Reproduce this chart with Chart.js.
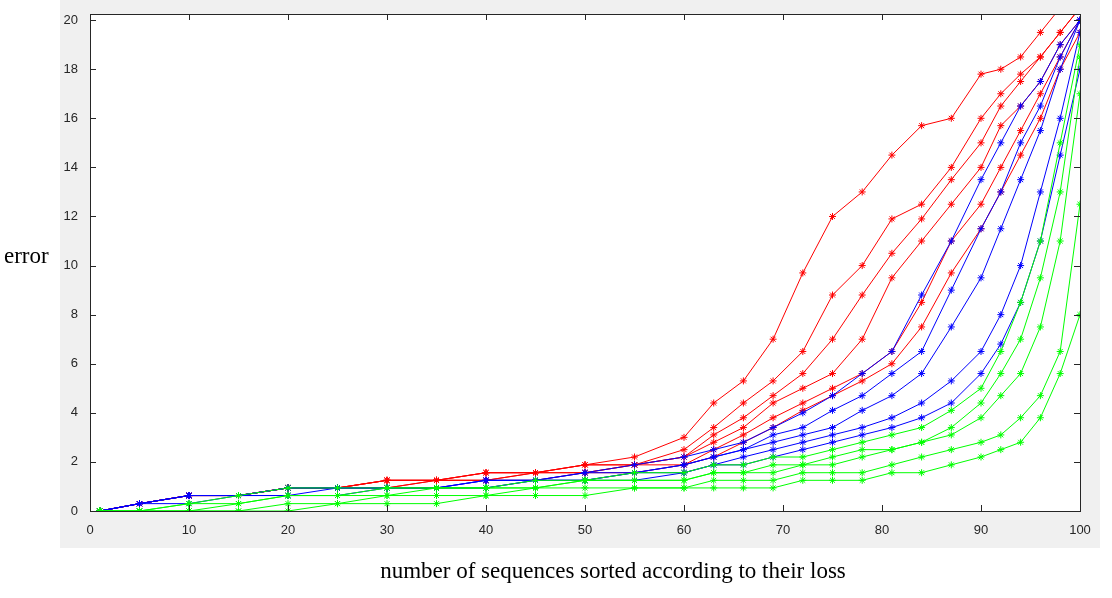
<!DOCTYPE html>
<html>
<head>
<meta charset="utf-8">
<script src="https://cdn.jsdelivr.net/npm/chart.js@4"></script>
<style>
  html, body { margin: 0; padding: 0; background: #fff; }
  #wrap { width: 1112px; height: 598px; }
</style>
</head>
<body>
<div id="wrap"><canvas id="c" width="1112" height="598"></canvas></div>
<script>
// shared x positions (sequence index)
const xs = [1,5,10,15,20,25,30,35,40,45,50,55,60,63,66,69,72,75,78,81,84,87,90,92,94,96,98,100];

// red runs
const red1 = [0,0.3,0.63,0.63,0.94,0.94,1.25,1.25,1.56,1.56,1.88,2.2,3.0,4.4,5.3,7.0,9.7,12.0,13.0,14.5,15.7,16.0,17.8,18.0,18.5,19.5,20.5,21];
const red2 = [0,0.3,0.63,0.63,0.94,0.94,1.25,1.25,1.56,1.56,1.88,1.88,2.5,3.4,4.4,5.3,6.5,8.8,10.0,11.9,12.5,14.0,16.0,17.0,17.8,18.5,19.5,20.5];
const red3 = [0,0.3,0.63,0.63,0.94,0.94,1.25,1.25,1.25,1.56,1.56,1.88,2.2,2.8,3.4,4.4,5.0,5.6,7.0,9.5,11.0,12.5,14.0,15.7,16.5,17.5,19.0,20];
const red4 = [0,0.3,0.63,0.63,0.94,0.94,0.94,1.25,1.25,1.56,1.56,1.88,1.88,2.5,3.1,3.8,4.4,5.0,5.6,6.5,8.5,11.0,12.5,14.0,15.5,17.0,18.5,20];
const red5 = [0,0.3,0.63,0.63,0.94,0.94,0.94,1.25,1.25,1.25,1.56,1.56,1.88,2.2,2.8,3.4,4.1,4.7,5.3,6.0,7.5,9.7,11.5,13.0,14.5,16.0,18.0,19.5];
const red6 = [0,0.3,0.63,0.63,0.94,0.94,1.25,1.25,1.56,1.56,1.88,1.88,2.2,3.1,3.8,4.7,5.6,7.0,8.8,10.5,11.9,13.5,15.0,16.5,17.5,18.5,19.5,20.5];

// blue runs
const blue1 = [0,0.3,0.63,0.63,0.94,0.94,0.94,0.94,1.25,1.25,1.56,1.88,2.2,2.5,2.8,3.4,4.0,4.7,5.6,6.5,8.8,11.0,13.5,15.0,16.5,17.5,19.0,20];
const blue2 = [0,0.3,0.63,0.63,0.94,0.94,0.94,0.94,1.25,1.25,1.25,1.56,1.88,2.2,2.5,2.8,3.1,3.4,4.1,4.7,5.6,7.5,9.5,11.5,13.5,15.5,18.0,20];
const blue3 = [0,0.3,0.63,0.63,0.63,0.94,0.94,0.94,0.94,1.25,1.25,1.56,1.56,1.88,2.2,2.5,2.8,3.1,3.4,3.8,4.4,5.3,6.5,8.0,10.0,13.0,16.0,19.5];
const blue4 = [0,0.3,0.3,0.63,0.63,0.63,0.94,0.94,0.94,1.25,1.25,1.25,1.56,1.88,1.88,2.2,2.5,2.8,3.1,3.4,3.8,4.4,5.6,6.8,8.5,11.0,14.5,18];
const blue5 = [0,0.3,0.63,0.63,0.94,0.94,0.94,0.94,1.25,1.25,1.56,1.56,1.88,2.2,2.5,3.1,3.4,4.1,4.7,5.6,6.5,9.0,11.5,13.0,15.0,16.5,18.5,20];

// green runs
const green1 = [0,0,0.3,0.63,0.94,0.94,0.94,0.94,0.94,1.25,1.25,1.56,1.56,1.88,1.88,2.2,2.2,2.5,2.8,3.1,3.4,4.1,5.0,6.5,8.5,11.0,15.0,19];
const green2 = [0,0,0,0.3,0.63,0.63,0.94,0.94,0.94,0.94,1.25,1.25,1.25,1.56,1.56,1.88,1.88,2.2,2.5,2.5,2.8,3.1,3.8,4.7,5.6,7.5,11.0,17];
const green3 = [0,0,0,0,0.3,0.3,0.63,0.63,0.63,0.94,0.94,0.94,0.94,1.25,1.25,1.25,1.56,1.56,1.56,1.88,2.2,2.5,2.8,3.1,3.8,4.7,6.5,12.5];
const green4 = [0,0,0,0,0,0.3,0.3,0.3,0.63,0.63,0.63,0.94,0.94,0.94,0.94,0.94,1.25,1.25,1.25,1.56,1.56,1.88,2.2,2.5,2.8,3.8,5.6,8];
const green5 = [0,0,0.3,0.3,0.63,0.63,0.63,0.94,0.94,0.94,1.25,1.25,1.25,1.56,1.56,1.56,1.88,1.88,2.2,2.5,2.8,3.4,4.4,5.6,7.0,9.5,13.0,18.5];

const xTicks = [0,10,20,30,40,50,60,70,80,90,100];
const yTicks = [0,2,4,6,8,10,12,14,16,18,20];

function run(ys, color) {
    return {
        data: xs.map((x, i) => ({ x: x, y: ys[i] })),
        borderColor: color,
        backgroundColor: color,
        borderWidth: 1,
        pointStyle: 'star',
        pointRadius: 3.5,
        pointBorderWidth: 1,
        tension: 0
    };
}

// figure background, box and titles
const frame = {
    id: 'frame',
    beforeDraw(chart) {
        const ctx = chart.ctx;
        const a = chart.chartArea;
        ctx.save();
        ctx.fillStyle = '#f0f0f0';
        ctx.fillRect(60, 0, 1040, 548);
        ctx.fillStyle = '#fff';
        ctx.fillRect(a.left, a.top, a.right - a.left, a.bottom - a.top);
        ctx.restore();
    },
    afterDraw(chart) {
        const ctx = chart.ctx;
        const a = chart.chartArea;
        const sx = chart.scales.x, sy = chart.scales.y;
        ctx.save();
        ctx.strokeStyle = '#262626';
        ctx.lineWidth = 1;
        ctx.strokeRect(a.left + 0.5, a.top + 0.5, a.right - a.left, a.bottom - a.top);
        ctx.beginPath();
        xTicks.forEach(t => {
            const px = Math.round(sx.getPixelForValue(t)) + 0.5;
            ctx.moveTo(px, a.bottom); ctx.lineTo(px, a.bottom - 6);
            ctx.moveTo(px, a.top); ctx.lineTo(px, a.top + 6);
        });
        yTicks.forEach(t => {
            const py = Math.round(sy.getPixelForValue(t)) + 0.5;
            ctx.moveTo(a.left, py); ctx.lineTo(a.left + 6, py);
            ctx.moveTo(a.right, py); ctx.lineTo(a.right - 6, py);
        });
        ctx.stroke();
        ctx.fillStyle = '#000';
        ctx.font = '23px "Liberation Serif"';
        ctx.textBaseline = 'middle';
        ctx.textAlign = 'left';
        ctx.fillText('error', 4, 257);
        ctx.textAlign = 'center';
        ctx.fillText('number of sequences sorted according to their loss', 613, 572);
        ctx.restore();
    }
};

new Chart(document.getElementById('c'), {
    type: 'line',
    data: {
        datasets: [
            run(green1, '#00ff00'), run(green2, '#00ff00'), run(green3, '#00ff00'), run(green4, '#00ff00'), run(green5, '#00ff00'),
            run(blue1, '#0000ff'), run(blue2, '#0000ff'), run(blue3, '#0000ff'), run(blue4, '#0000ff'), run(blue5, '#0000ff'),
            run(red1, '#ff0000'), run(red2, '#ff0000'), run(red3, '#ff0000'), run(red4, '#ff0000'), run(red5, '#ff0000'), run(red6, '#ff0000')
        ]
    },
    options: {
        responsive: false,
        animation: false,
        layout: { padding: { left: 60, right: 32, top: 14, bottom: 50 } },
        plugins: { legend: { display: false }, tooltip: { enabled: false } },
        scales: {
            x: {
                type: 'linear', min: 0, max: 100,
                afterFit: s => { s.height = 37; },
                afterBuildTicks: s => { s.ticks = xTicks.map(v => ({ value: v })); },
                grid: { display: false },
                border: { display: false },
                ticks: { color: '#262626', font: { family: 'Liberation Sans', size: 13 }, padding: 4 }
            },
            y: {
                type: 'linear', min: 0, max: 20.25,
                afterFit: s => { s.width = 30; },
                afterBuildTicks: s => { s.ticks = yTicks.map(v => ({ value: v })); },
                grid: { display: false },
                border: { display: false },
                ticks: { color: '#262626', font: { family: 'Liberation Sans', size: 13 }, padding: 4 }
            }
        }
    },
    plugins: [frame]
});
</script>
</body>
</html>
